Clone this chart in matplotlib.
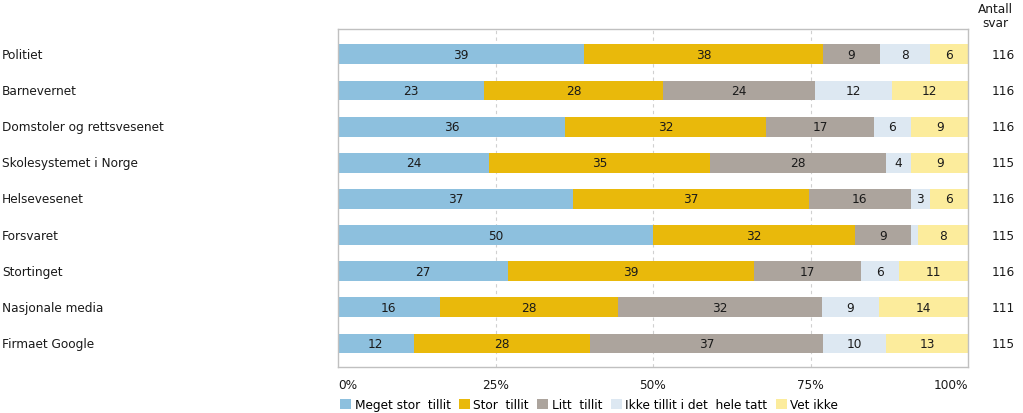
import matplotlib.pyplot as plt
import matplotlib.transforms as mtransforms
import numpy as np

plt.rcParams['font.family'] = "DejaVu Sans"
plt.rcParams['font.size'] = 8.7

# Data (percent per institution)
institutions = ["Politiet", "Barnevernet", "Domstoler og rettsvesenet",
                "Skolesystemet i Norge", "Helsevesenet", "Forsvaret",
                "Stortinget", "Nasjonale media", "Firmaet Google"]
meget_stor = [39, 23, 36, 24, 37, 50, 27, 16, 12]
stor = [38, 28, 32, 35, 37, 32, 39, 28, 28]
litt = [9, 24, 17, 28, 16, 9, 17, 32, 37]
ikke = [8, 12, 6, 4, 3, 1, 6, 9, 10]
vet_ikke = [6, 12, 9, 9, 6, 8, 11, 14, 13]
antall = [116, 116, 116, 115, 116, 115, 116, 111, 115]

series_names = ["Meget stor  tillit", "Stor  tillit", "Litt  tillit",
                "Ikke tillit i det  hele tatt", "Vet ikke"]
colors = ["#8dc0de", "#e9b90b", "#aca49d", "#dde8f2", "#fcec9c"]

series = np.array([meget_stor, stor, litt, ikke, vet_ikke], dtype=float)
shares = series / series.sum(axis=0) * 100

fig = plt.figure(figsize=(10.23, 4.14), dpi=100)
ax = fig.add_axes([338 / 1023, 1 - 368 / 414, 630 / 1023, 338 / 414])

y = np.arange(len(institutions))
left = np.zeros(len(institutions))
for i, name in enumerate(series_names):
    ax.barh(y, shares[i], left=left, height=0.55, color=colors[i],
            label=name, zorder=2)
    for j in range(len(institutions)):
        # segments that are too thin get no label
        if series[i, j] >= 2:
            ax.text(left[j] + shares[i, j] / 2, y[j], f"{series[i, j]:.0f}",
                    ha="center", va="center", color="#1a1a1a", zorder=3)
    left += shares[i]

ax.set_xlim(0, 100)
ax.set_ylim(8.65, -0.7)
ax.set_yticks([])
ax.set_xticks([0, 25, 50, 75, 100])
ax.set_xticklabels(["0%", "25%", "50%", "75%", "100%"])
ax.tick_params(axis="x", length=0, pad=8, colors="#1a1a1a")
ax.get_xticklabels()[0].set_horizontalalignment("left")
ax.get_xticklabels()[-1].set_horizontalalignment("right")
for x in [25, 50, 75]:
    ax.axvline(x, color="#d0d0d0", linestyle=(0, (3, 3)), linewidth=0.8,
               zorder=1)
for s in ax.spines.values():
    s.set_color("#c0c0c0")
    s.set_linewidth(1)

# category labels on the left, counts on the right
trans = mtransforms.blended_transform_factory(fig.transFigure, ax.transData)
for j, name in enumerate(institutions):
    ax.text(2 / 1023, y[j], name, transform=trans, ha="left", va="center",
            color="#1a1a1a")
    ax.text(1003 / 1023, y[j], str(antall[j]), transform=trans,
            ha="center", va="center", color="#1a1a1a")
fig.text(995 / 1023, 1 - 3 / 414, "Antall\nsvar", ha="center", va="top",
         color="#1a1a1a", linespacing=1.1)

fig.legend(loc="lower left", bbox_to_anchor=(334 / 1023, -0.01), ncol=5,
           frameon=False, handlelength=0.9, handleheight=0.9,
           handletextpad=0.3, columnspacing=0.7, borderaxespad=0.1)

fig.savefig("out.png", dpi=100)
